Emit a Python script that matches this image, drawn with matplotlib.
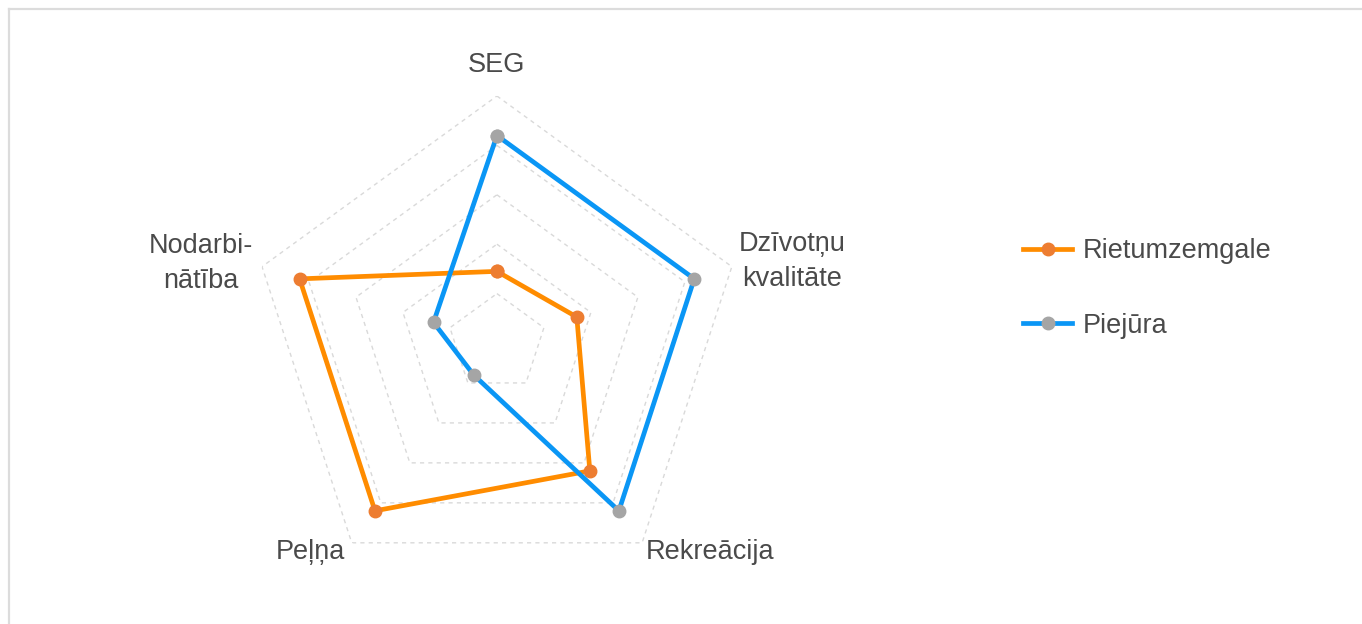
import numpy as np
from matplotlib import pyplot as plt
from matplotlib import font_manager
from matplotlib.lines import Line2D

categories = ["SEG", "Dzīvotņu\nkvalitāte", "Rekreācija", "Peļņa", "Nodarbi-\nnātība"]
rietumzemgale = [1.45, 1.7, 3.2, 4.2, 4.2]
piejura = [4.2, 4.2, 4.2, 0.8, 1.35]
grid_levels = [1, 2, 3, 4, 5]

names = [f.name for f in font_manager.fontManager.ttflist]
if "Liberation Sans Narrow" in names:
    font = "Liberation Sans Narrow"
    fsize = 21
else:
    font = "Liberation Sans"
    fsize = 19.5
plt.rcParams["font.family"] = [font, "DejaVu Sans"]
text_col = "#4a4a4a"

fig = plt.figure(figsize=(13.62, 6.24), dpi=100)
ax = fig.add_axes([0.1835, 0.0545, 0.3627, 0.7917], projection="polar")
ax.set_theta_offset(np.pi / 2)
ax.set_theta_direction(-1)

angles = np.linspace(0, 2 * np.pi, len(categories), endpoint=False)
closed = np.append(angles, angles[0])

# pentagon grid
for lvl in grid_levels:
    ax.plot(closed, [lvl] * len(closed), color="#d9d9d9", lw=1, ls=(0, (3, 3)), zorder=1)

def close(vals):
    return vals + vals[:1]

ax.plot(closed, close(rietumzemgale), color="#ff8c00", lw=3.4, marker="o", ms=9,
        mfc="#ed7d31", mec="#ed7d31", label="Rietumzemgale", zorder=3)
ax.plot(closed, close(piejura), color="#0a96f5", lw=3.4, marker="o", ms=9,
        mfc="#a5a5a5", mec="#a5a5a5", label="Piejūra", zorder=4)

ax.set_ylim(0, 5)
ax.grid(False)
ax.spines["polar"].set_visible(False)
ax.set_xticks([])
ax.set_yticks([])
ax.patch.set_alpha(0)

# category labels (theta in degrees clockwise from top, radius)
label_pos = [(0, 5.63), (74.6, 6.2), (134.5, 6.04), (-138.3, 5.66), (-75.0, 6.2)]
for lab, (th, r) in zip(categories, label_pos):
    ax.text(np.deg2rad(th), r, lab, ha="center", va="center", fontsize=fsize,
            color=text_col, linespacing=1.45)

leg = fig.legend(loc="center left", bbox_to_anchor=(0.7335, 0.5377), frameon=False,
                 fontsize=fsize, handlelength=1.78, handletextpad=0.4,
                 labelspacing=1.8)
for t in leg.get_texts():
    t.set_color(text_col)

# chart area border (top and left edges visible)
fig.add_artist(Line2D([0.0066, 1.0], [0.985, 0.985], color="#dcdcdc", lw=1.6))
fig.add_artist(Line2D([0.0066, 0.0066], [0.0, 0.985], color="#dcdcdc", lw=1.6))

fig.savefig("out.png", dpi=100)
